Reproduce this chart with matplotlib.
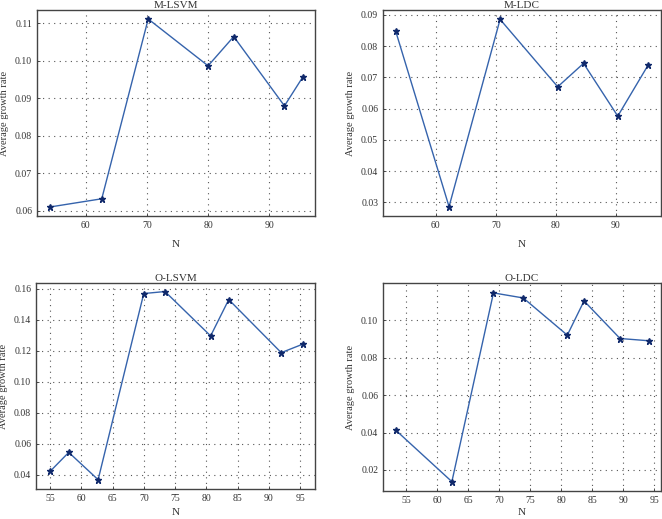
import matplotlib
matplotlib.use("Agg")
import matplotlib.pyplot as plt

plt.rcParams['font.family'] = ['Liberation Serif', 'DejaVu Serif']

m_lsvm_x = [54.1, 62.6, 70.2, 80.0, 84.2, 92.5, 95.5]
m_lsvm_y = [0.0610, 0.0632, 0.1112, 0.0987, 0.1065, 0.0880, 0.0957]

m_ldc_x = [53.3, 62.2, 70.7, 80.3, 84.6, 90.3, 95.4]
m_ldc_y = [0.0849, 0.0286, 0.0886, 0.0670, 0.0745, 0.0576, 0.0741]

o_lsvm_x = [55.0, 58.0, 62.7, 70.0, 73.4, 80.7, 83.6, 92.0, 95.4]
o_lsvm_y = [0.0421, 0.0544, 0.0368, 0.1568, 0.1581, 0.1295, 0.1529, 0.1187, 0.1241]

o_ldc_x = [53.4, 62.4, 69.1, 73.9, 81.0, 83.7, 89.5, 94.1]
o_ldc_y = [0.0411, 0.0137, 0.1147, 0.1120, 0.0921, 0.1104, 0.0903, 0.0891]

titles = ["M-LSVM", "M-LDC", "O-LSVM", "O-LDC"]
xlabel = "N"
ylabel = "Average growth rate"

fig = plt.figure(figsize=(6.62, 5.19), dpi=100)
W, H = 662, 519

def ax_at(l, r, t, b):
    return fig.add_axes([l / W, 1 - b / H, (r - l) / W, (b - t) / H])

specs = [
    (ax_at(37, 315, 10, 216), m_lsvm_x, m_lsvm_y, (52.0, 97.5), (0.0586, 0.1136),
     [60, 70, 80, 90], [0.06, 0.07, 0.08, 0.09, 0.10, 0.11], 7),
    (ax_at(383, 661, 10, 216), m_ldc_x, m_ldc_y, (51.2, 97.5), (0.0256, 0.0916),
     [60, 70, 80, 90], [0.03, 0.04, 0.05, 0.06, 0.07, 0.08, 0.09], 7),
    (ax_at(36, 315, 283, 489), o_lsvm_x, o_lsvm_y, (52.76, 97.4), (0.0308, 0.1636),
     [55, 60, 65, 70, 75, 80, 85, 90, 95], [0.04, 0.06, 0.08, 0.10, 0.12, 0.14, 0.16], 4),
    (ax_at(383, 661, 283, 491), o_ldc_x, o_ldc_y, (51.3, 96.1), (0.0087, 0.1200),
     [55, 60, 65, 70, 75, 80, 85, 90, 95], [0.02, 0.04, 0.06, 0.08, 0.10], 2.5),
]

for (ax, x, y, xl, yl, xt, yt, xpad), title in zip(specs, titles):
    ax.plot(x, y, color='#3563ac', lw=1.0, marker='*', markersize=5,
            markerfacecolor='#10296b', markeredgecolor='#10296b', zorder=3)
    ax.set_xlim(*xl)
    ax.set_ylim(*yl)
    ax.set_xticks(xt)
    ax.set_yticks(yt)
    ax.set_yticklabels(["{:.2f}".format(v) for v in yt])
    ax.grid(True, linestyle=(0, (1, 4)), color='#555555', lw=0.8)
    ax.tick_params(labelsize=7, length=2.5, width=0.6, direction='in', colors='#333333',
                   labelcolor='#333333')
    for s in ax.spines.values():
        s.set_linewidth(1.0)
        s.set_color('#444444')
    ax.set_title(title, fontsize=8, pad=1.5, color='#333333')
    ax.set_xlabel(xlabel, fontsize=8, color='#333333', labelpad=xpad)
    ax.set_ylabel(ylabel, fontsize=7.5, color='#333333', labelpad=4)

fig.savefig("out.png", dpi=100)
